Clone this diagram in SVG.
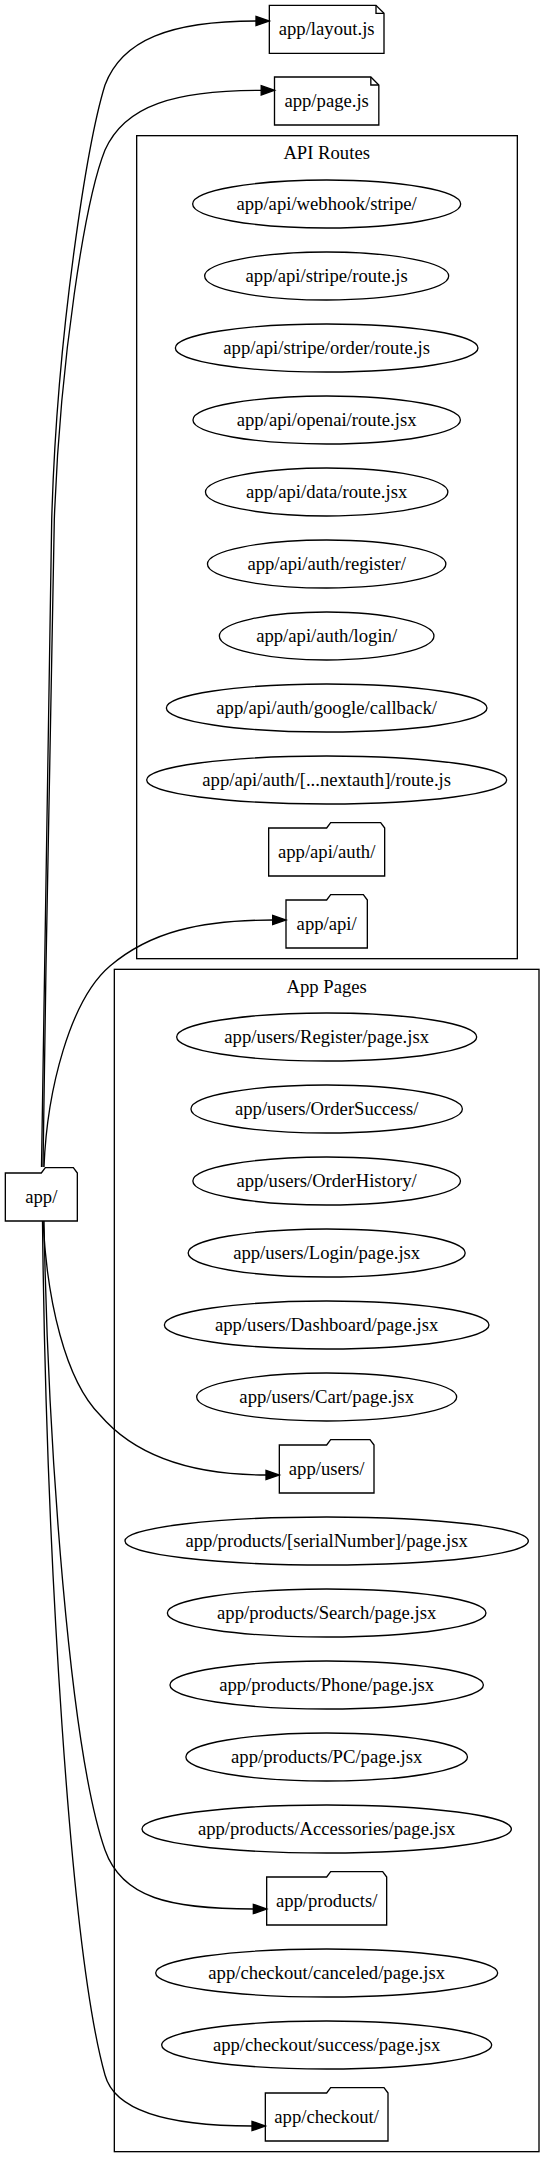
<svg xmlns="http://www.w3.org/2000/svg" width="555" height="2168" viewBox="0 0 555 2168">
<style>
text{font-family:"Liberation Serif","Times New Roman",serif;font-size:18.67px;text-anchor:middle;fill:#000}
.n{fill:none;stroke:#000;stroke-width:1.33}
.c{fill:none;stroke:#000;stroke-width:1.33}
.e{fill:none;stroke:#000;stroke-width:1.33}
.a{fill:#000;stroke:#000;stroke-width:1.33}
</style>
<rect width="555" height="2168" fill="#fff"/>
<g id="cluster_api">
<rect class="c" x="136.67" y="135.67" width="380.67" height="823"/>
<text x="326.67" y="159.3">API Routes</text>
</g>
<g id="cluster_pages">
<rect class="c" x="114.33" y="969.33" width="424.67" height="1182.33"/>
<text x="326.67" y="993">App Pages</text>
</g>
<g id="n_app">
<polygon class="n" points="77.33,1173 73.33,1167.67 45.33,1167.67 41.33,1173 5.33,1173 5.33,1221 77.33,1221 77.33,1173"/>
<text x="41.33" y="1202.6">app/</text>
</g>
<g id="n_layout">
<polygon class="n" points="376,5.33 269.33,5.33 269.33,53.33 384,53.33 384,13.33 376,5.33"/>
<polyline class="n" points="376,5.33 376,13.33 384,13.33"/>
<text x="326.67" y="34.8">app/layout.js</text>
</g>
<g id="n_page">
<polygon class="n" points="370.83,77 274.5,77 274.5,125 378.83,125 378.83,85 370.83,77"/>
<polyline class="n" points="370.83,77 370.83,85 378.83,85"/>
<text x="326.67" y="106.6">app/page.js</text>
</g>
<g id="n_webhook"><ellipse class="n" cx="326.67" cy="204" rx="134" ry="24"/><text x="326.67" y="209.6">app/api/webhook/stripe/</text></g>
<g id="n_stripe"><ellipse class="n" cx="326.67" cy="276" rx="122" ry="24"/><text x="326.67" y="281.6">app/api/stripe/route.js</text></g>
<g id="n_stripe_order"><ellipse class="n" cx="326.67" cy="348" rx="151.3" ry="24"/><text x="326.67" y="353.6">app/api/stripe/order/route.js</text></g>
<g id="n_openai"><ellipse class="n" cx="326.67" cy="420" rx="133.7" ry="24"/><text x="326.67" y="425.6">app/api/openai/route.jsx</text></g>
<g id="n_data"><ellipse class="n" cx="326.67" cy="492" rx="121.2" ry="24"/><text x="326.67" y="497.6">app/api/data/route.jsx</text></g>
<g id="n_register"><ellipse class="n" cx="326.67" cy="564" rx="119.2" ry="24"/><text x="326.67" y="569.6">app/api/auth/register/</text></g>
<g id="n_login"><ellipse class="n" cx="326.67" cy="636" rx="107.3" ry="24"/><text x="326.67" y="641.6">app/api/auth/login/</text></g>
<g id="n_google"><ellipse class="n" cx="326.67" cy="708" rx="160.3" ry="24"/><text x="326.67" y="713.6">app/api/auth/google/callback/</text></g>
<g id="n_nextauth"><ellipse class="n" cx="326.67" cy="780" rx="180" ry="24"/><text x="326.67" y="785.6">app/api/auth/[...nextauth]/route.js</text></g>
<g id="n_api_auth">
<polygon class="n" points="384.67,828 380.67,822.67 330.67,822.67 326.67,828 268.67,828 268.67,876 384.67,876 384.67,828"/>
<text x="326.67" y="857.6">app/api/auth/</text>
</g>
<g id="n_api">
<polygon class="n" points="367.33,900 363.33,894.67 330.67,894.67 326.67,900 286,900 286,948 367.33,948 367.33,900"/>
<text x="326.67" y="929.6">app/api/</text>
</g>
<g id="n_u_register"><ellipse class="n" cx="326.67" cy="1037" rx="150" ry="24"/><text x="326.67" y="1042.6">app/users/Register/page.jsx</text></g>
<g id="n_u_ordersuccess"><ellipse class="n" cx="326.67" cy="1109" rx="135.7" ry="24"/><text x="326.67" y="1114.6">app/users/OrderSuccess/</text></g>
<g id="n_u_orderhistory"><ellipse class="n" cx="326.67" cy="1181" rx="133.8" ry="24"/><text x="326.67" y="1186.6">app/users/OrderHistory/</text></g>
<g id="n_u_login"><ellipse class="n" cx="326.67" cy="1253" rx="138.5" ry="24"/><text x="326.67" y="1258.6">app/users/Login/page.jsx</text></g>
<g id="n_u_dashboard"><ellipse class="n" cx="326.67" cy="1325" rx="162.3" ry="24"/><text x="326.67" y="1330.6">app/users/Dashboard/page.jsx</text></g>
<g id="n_u_cart"><ellipse class="n" cx="326.67" cy="1397" rx="130" ry="24"/><text x="326.67" y="1402.6">app/users/Cart/page.jsx</text></g>
<g id="n_users">
<polygon class="n" points="374,1445 370,1439.67 330.67,1439.67 326.67,1445 279.33,1445 279.33,1493 374,1493 374,1445"/>
<text x="326.67" y="1474.6">app/users/</text>
</g>
<g id="n_p_serial"><ellipse class="n" cx="326.67" cy="1541" rx="201.7" ry="24"/><text x="326.67" y="1546.6">app/products/[serialNumber]/page.jsx</text></g>
<g id="n_p_search"><ellipse class="n" cx="326.67" cy="1613" rx="159.3" ry="24"/><text x="326.67" y="1618.6">app/products/Search/page.jsx</text></g>
<g id="n_p_phone"><ellipse class="n" cx="326.67" cy="1685" rx="156.7" ry="24"/><text x="326.67" y="1690.6">app/products/Phone/page.jsx</text></g>
<g id="n_p_pc"><ellipse class="n" cx="326.67" cy="1757" rx="140.8" ry="24"/><text x="326.67" y="1762.6">app/products/PC/page.jsx</text></g>
<g id="n_p_accessories"><ellipse class="n" cx="326.67" cy="1829" rx="184.7" ry="24"/><text x="326.67" y="1834.6">app/products/Accessories/page.jsx</text></g>
<g id="n_products">
<polygon class="n" points="386.67,1877 382.67,1871.67 330.67,1871.67 326.67,1877 266.67,1877 266.67,1925 386.67,1925 386.67,1877"/>
<text x="326.67" y="1906.6">app/products/</text>
</g>
<g id="n_c_canceled"><ellipse class="n" cx="326.67" cy="1973" rx="171" ry="24"/><text x="326.67" y="1978.6">app/checkout/canceled/page.jsx</text></g>
<g id="n_c_success"><ellipse class="n" cx="326.67" cy="2045" rx="165" ry="24"/><text x="326.67" y="2050.6">app/checkout/success/page.jsx</text></g>
<g id="n_checkout">
<polygon class="n" points="388,2093 384,2087.67 330.67,2087.67 326.67,2093 265.33,2093 265.33,2141 388,2141 388,2093"/>
<text x="326.67" y="2122.6">app/checkout/</text>
</g>
<g id="edges">
<path class="e" d="M41.5,1167 C44,900 47.5,700 51.7,520 C57,330 88,140 105,85 C122,40 170,21 256,21"/>
<polygon class="a" points="256,16.33 269.33,21 256,25.67"/>
<path class="e" d="M43,1167 C46,950 50,720 54.3,520 C60,360 85,200 105,150 C125,105 175,90.3 261.2,90.3"/>
<polygon class="a" points="261.2,85.67 274.5,90.3 261.2,95"/>
<path class="e" d="M44,1167 C47,1090 70,1000 110,966 C150,932 200,920 272.7,920"/>
<polygon class="a" points="272.67,915.33 286,920 272.67,924.67"/>
<path class="e" d="M43,1221 C47,1300 65,1380 100,1415 C130,1450 180,1475 266,1475"/>
<polygon class="a" points="266,1470.33 279.33,1475 266,1479.67"/>
<path class="e" d="M44,1221 C48,1450 70,1750 105,1850 C122,1898 170,1909 253.3,1909"/>
<polygon class="a" points="253.33,1904.33 266.67,1909 253.33,1913.67"/>
<path class="e" d="M42.5,1221 C46,1550 70,1950 105,2075 C115,2112 170,2126 252,2126"/>
<polygon class="a" points="252,2121.33 265.33,2126 252,2130.67"/>
</g>
</svg>
